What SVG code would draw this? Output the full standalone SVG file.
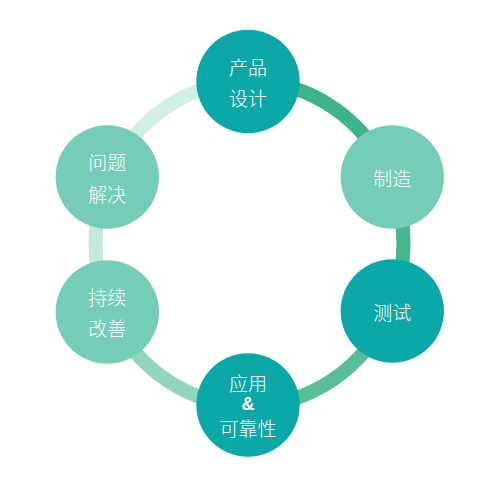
<svg xmlns="http://www.w3.org/2000/svg" width="499" height="499" viewBox="0 0 499 499">
  <style>
    .arc { fill: none; stroke-width: 14; }
    .dark { fill: #0CA8A8; }
    .light { fill: #75CDB8; }
    .t { fill: #FFFFFF; font-family: "Noto Sans CJK SC", "Noto Sans", sans-serif; font-size: 19px; font-weight: 300; text-anchor: middle; dominant-baseline: central; }
    .amp { fill: #FFFFFF; font-family: "Liberation Sans", Arial, sans-serif; font-size: 18px; font-weight: bold; text-anchor: middle; dominant-baseline: central; }
  </style>
  <rect width="499" height="499" fill="#FFFFFF"/>
  <g id="connectors">
    <path class="arc" stroke="#3DB48B" d="M249.5,81.5 A154,162 0 0 1 389.9,177"/>
    <path class="arc" stroke="#45B68E" d="M389.9,177 A154,162 0 0 1 389.5,311"/>
    <path class="arc" stroke="#58BE97" d="M389.5,311 A154,162 0 0 1 249.5,405.5"/>
    <path class="arc" stroke="#90D5BC" d="M249.5,405.5 A154,162 0 0 1 109.5,311"/>
    <path class="arc" stroke="#C3E8DD" d="M109.5,311 A154,162 0 0 1 109.1,177"/>
    <path class="arc" stroke="#D2EFE6" d="M109.1,177 A154,162 0 0 1 249.5,81.5"/>
  </g>
  <g id="node-design">
    <circle class="dark" cx="248" cy="81.5" r="51.7"/>
    <text class="t" x="248" y="66">产品</text>
    <text class="t" x="248" y="97">设计</text>
  </g>
  <g id="node-manufacture">
    <circle class="light" cx="392.3" cy="177" r="51.7"/>
    <text class="t" x="392.3" y="177">制造</text>
  </g>
  <g id="node-test">
    <circle class="dark" cx="392.3" cy="311" r="51.7"/>
    <text class="t" x="392.3" y="311">测试</text>
  </g>
  <g id="node-application">
    <circle class="dark" cx="248" cy="405" r="51.7"/>
    <text class="t" x="248" y="382">应用</text>
    <text class="amp" x="248" y="404">&amp;</text>
    <text class="t" x="248" y="427">可靠性</text>
  </g>
  <g id="node-improve">
    <circle class="light" cx="107.3" cy="312" r="51.7"/>
    <text class="t" x="107.3" y="296">持续</text>
    <text class="t" x="107.3" y="327.5">改善</text>
  </g>
  <g id="node-problem">
    <circle class="light" cx="107.3" cy="177" r="51.7"/>
    <text class="t" x="107.3" y="161">问题</text>
    <text class="t" x="107.3" y="193">解决</text>
  </g>
</svg>
